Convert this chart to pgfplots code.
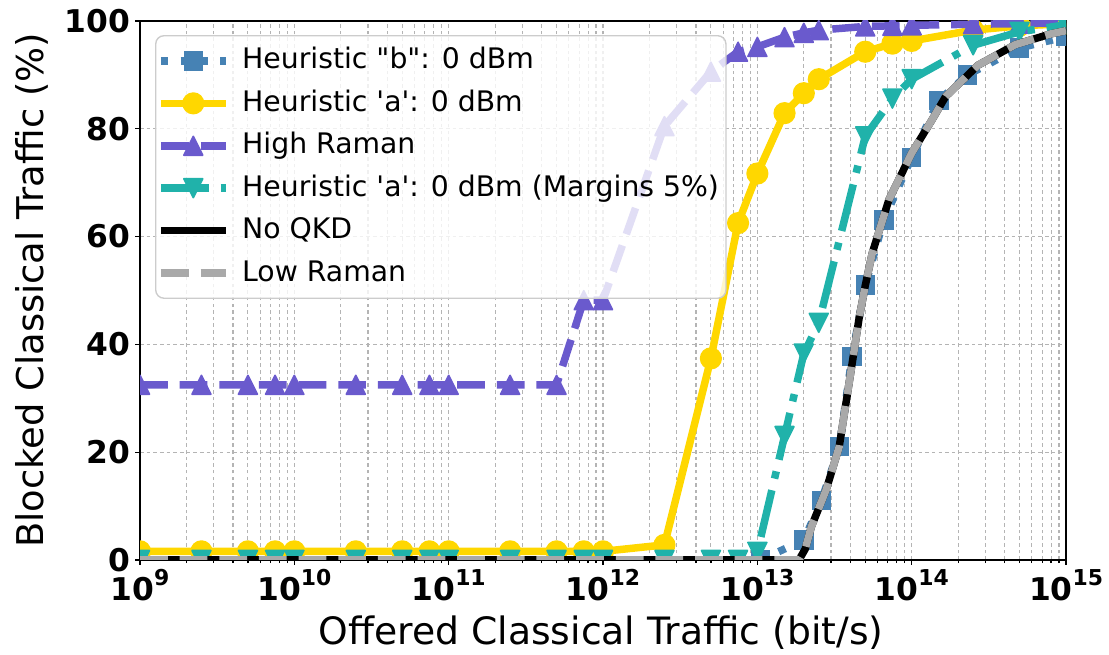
\documentclass[border=0pt]{standalone}
\usepackage{fontspec}
\setmainfont{DejaVu Sans}
\newfontfamily\legfont{DejaVu Sans}
\usepackage{pgfplots}
\pgfplotsset{compat=1.18}
\definecolor{cb}{RGB}{70,130,180}
\definecolor{cgold}{RGB}{255,215,0}
\definecolor{cslate}{RGB}{106,90,205}
\definecolor{cteal}{RGB}{32,178,170}
\definecolor{cgray}{RGB}{169,169,169}
\definecolor{gridc}{RGB}{180,180,180}
\pgfdeclareplotmark{mtriu}{%
  \pgfpathmoveto{\pgfqpoint{0pt}{\pgfplotmarksize}}%
  \pgfpathlineto{\pgfqpoint{-\pgfplotmarksize}{-\pgfplotmarksize}}%
  \pgfpathlineto{\pgfqpoint{\pgfplotmarksize}{-\pgfplotmarksize}}%
  \pgfpathclose\pgfusepathqfillstroke}
\pgfdeclareplotmark{mtrid}{%
  \pgfpathmoveto{\pgfqpoint{0pt}{-\pgfplotmarksize}}%
  \pgfpathlineto{\pgfqpoint{-\pgfplotmarksize}{\pgfplotmarksize}}%
  \pgfpathlineto{\pgfqpoint{\pgfplotmarksize}{\pgfplotmarksize}}%
  \pgfpathclose\pgfusepathqfillstroke}
\newcommand{\xtl}[1]{10\raisebox{5.4pt}{\fontsize{7.9}{8}\selectfont\bfseries #1}}
\begin{document}
\begin{tikzpicture}
\begin{axis}[
  at={(0pt,0pt)}, anchor=south west,
  scale only axis, width=334pt, height=194.4pt,
  xmode=log, xmin=1e9, xmax=1e15, ymin=0, ymax=100,
  xtick={1e9,1e10,1e11,1e12,1e13,1e14,1e15},
  xticklabels={\xtl{9},\xtl{10},\xtl{11},\xtl{12},\xtl{13},\xtl{14},\xtl{15}},
  ytick={0,20,40,60,80,100},
  yticklabels={0,20,40,60,80,100},
  ticklabel style={font=\fontsize{11.3}{13}\selectfont\bfseries, inner sep=1.5pt},
  xtick pos=bottom, ytick pos=left, tick align=outside,
  major tick length=1.8pt, minor tick length=1.1pt,
  tick style={black, line width=0.45pt},
  axis line style={line width=0.55pt},
  grid=both,
  major grid style={gridc, line width=0.4pt, dash pattern=on 1.3pt off 1.1pt},
  minor grid style={gridc, line width=0.4pt, dash pattern=on 1.3pt off 1.1pt},
  xlabel={Offered Classical Traffic (bit/s)},
  ylabel={Blocked Classical Traffic (\%)},
  xlabel style={font=\fontsize{13.6}{15}\selectfont, at={(axis description cs:0.498,-0.134)}, anchor=center},
  ylabel style={font=\fontsize{13.3}{15}\selectfont, at={(axis description cs:-0.117,0.5)}, anchor=center},
  clip marker paths=true,
  legend cell align=left,
  legend style={at={(0.0162,0.974)}, anchor=north west,
    fill=white, fill opacity=0.8, draw opacity=1, text opacity=1,
    draw=black!20, line width=0.5pt, rounded corners=3pt,
    font=\legfont\fontsize{10.2}{12}\selectfont,
    inner xsep=0.5pt, inner ysep=2pt, row sep=1.1pt,
    nodes={inner sep=2pt, text height=8pt, text depth=2.2pt},
    /tikz/every odd column/.append style={column sep=2.6pt}},
  legend image code/.code={\draw[opacity=1,sharp corners,mark repeat=2,mark phase=2,#1] plot coordinates {(0pt,0pt) (11.7pt,0pt) (23.4pt,0pt)};},
]
\addplot[cb, line width=2.7pt, dash pattern=on 2.7pt off 4.45pt, mark=square*, mark size=3.2pt, mark options={solid, line width=0.6pt, fill=cb}] coordinates {
(1.05e13,0) (2e13,3.7) (2.6e13,11) (3.4e13,21) (4.1e13,37.7) (5e13,51) (6.6e13,63.1)
(1e14,74.7) (1.5e14,85.3) (2.3e14,90) (5e14,95) (1e15,97.1)};
\addlegendentry{Heuristic "b": 0 dBm}
\addplot[cgold, line width=2.7pt, line join=round, mark=*, mark size=3.7pt, mark options={solid, line width=0.6pt, fill=cgold}] coordinates {
(1e9,1.6) (2.5e9,1.6) (5e9,1.6) (7.5e9,1.6) (1e10,1.6) (2.5e10,1.6) (5e10,1.6) (7.5e10,1.6)
(1e11,1.6) (2.5e11,1.6) (5e11,1.6) (7.5e11,1.6) (1e12,1.6) (2.5e12,2.8) (5e12,37.4) (7.5e12,62.5)
(1e13,71.7) (1.5e13,82.9) (2e13,86.6) (2.5e13,89.2) (5e13,94.3) (7.5e13,95.8) (1e14,96.3)
(2.5e14,98.3) (5e14,99.1) (1e15,99.5)};
\addlegendentry{Heuristic 'a': 0 dBm}
\addplot[cslate, line width=2.7pt, line join=round, dash pattern=on 10pt off 4.3pt, mark=mtriu, mark size=3.4pt, mark options={solid, line width=0.6pt, fill=cslate}] coordinates {
(1e9,32.5) (2.5e9,32.5) (5e9,32.5) (7.5e9,32.5) (1e10,32.5) (2.5e10,32.5) (5e10,32.5) (7.5e10,32.5)
(1e11,32.5) (2.5e11,32.5) (5e11,32.5) (7.5e11,48.2) (1e12,48.2) (2.5e12,80.5) (5e12,90.6) (7.5e12,94.3)
(1e13,95.2) (1.5e13,97) (2e13,97.8) (2.5e13,98.3) (5e13,99) (7.5e13,99.1) (1e14,99.2)
(2.5e14,99.4) (5e14,99.5) (1e15,99.7)};
\addlegendentry{High Raman}
\addplot[cteal, line width=2.7pt, line join=round, dash pattern=on 17.3pt off 4.3pt on 2.7pt off 4.3pt, mark=mtrid, mark size=3.4pt, mark options={solid, line width=0.6pt, fill=cteal}] coordinates {
(1e9,0) (2.5e9,0) (5e9,0) (7.5e9,0) (1e10,0) (2.5e10,0) (5e10,0) (7.5e10,0)
(1e11,0) (2.5e11,0) (5e11,0) (7.5e11,0) (1e12,0) (2.5e12,0) (5e12,0) (7.5e12,0)
(1e13,1.5) (1.5e13,23) (2e13,38.3) (2.5e13,44) (5e13,78.6) (7.5e13,85.6) (1e14,89.2)
(2.5e14,95.5) (5e14,98) (1e15,99.3)};
\addlegendentry{Heuristic 'a': 0 dBm (Margins 5\%)}
\addplot[black, line width=2.7pt, line join=round, no marks] coordinates {
(1e9,0) (1.86e13,0) (2.04e13,2) (2.24e13,6.2) (2.79e13,13) (3.39e13,21) (4.14e13,37) (4.57e13,45)
(5.01e13,51) (5.56e13,57) (7.11e13,66.8) (1e14,75.5) (1.35e14,81.6) (1.66e14,86) (2.69e14,91.8)
(4.68e14,95.6) (7.94e14,97.6) (1e15,98.2)};
\addlegendentry{No QKD}
\addplot[cgray, line width=2.7pt, line join=round, dash pattern=on 10pt off 4.3pt, no marks] coordinates {
(1e9,0) (1.86e13,0) (2.04e13,2) (2.24e13,6.2) (2.79e13,13) (3.39e13,21) (4.14e13,37) (4.57e13,45)
(5.01e13,51) (5.56e13,57) (7.11e13,66.8) (1e14,75.5) (1.35e14,81.6) (1.66e14,86) (2.69e14,91.8)
(4.68e14,95.6) (7.94e14,97.6) (1e15,98.2)};
\addlegendentry{Low Raman}
\end{axis}
\pgfresetboundingbox
\path[use as bounding box] (-50.5pt,-34.27pt) rectangle (349.5pt,201.97pt);
\end{tikzpicture}
\end{document}
